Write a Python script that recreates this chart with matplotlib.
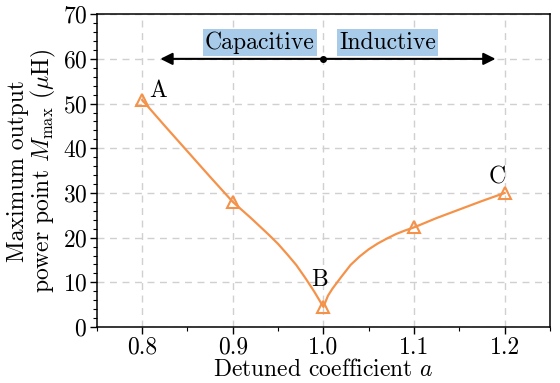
import numpy as np
import matplotlib
matplotlib.use('Agg')
import matplotlib.pyplot as plt

plt.rcParams['font.family'] = ['cmr10', 'DejaVu Serif']
plt.rcParams['mathtext.fontset'] = 'cm'
plt.rcParams['axes.formatter.use_mathtext'] = True
plt.rcParams['font.size'] = 17

# sampled points (markers)
alpha = [0.8, 0.9, 1.0, 1.1, 1.2]
m_max = [50.8, 28.0, 4.5, 22.3, 30.0]

# fitted curve
alpha_fit = [0.8, 0.825, 0.85, 0.875, 0.9, 0.91, 0.92, 0.93, 0.94, 0.95,
             0.96, 0.97, 0.98, 0.99, 1.0, 1.005, 1.01, 1.02, 1.03, 1.04,
             1.05, 1.06, 1.07, 1.08, 1.09, 1.1, 1.125, 1.15, 1.175, 1.2]
m_fit = [50.8, 45.0, 39.3, 33.6, 28.0, 26.2, 24.4, 22.5, 20.6, 18.6,
         16.3, 13.9, 11.0, 7.9, 4.5, 7.0, 8.6, 11.3, 13.9, 15.8,
         17.4, 18.7, 19.8, 20.8, 21.6, 22.3, 24.4, 26.3, 28.2, 30.0]

orange = '#f5924a'

fig = plt.figure(figsize=(5.6, 3.83), dpi=100)
ax = fig.add_axes([0.173, 0.146, 0.809, 0.817])

ax.plot(alpha_fit, m_fit, color=orange, lw=1.6, zorder=3)
ax.plot(alpha, m_max, ls='none', marker='^', ms=8, mfc='none',
        mec=orange, mew=1.5, zorder=4)

ax.text(0.818, 52.8, 'A', ha='center', va='center')
ax.text(0.996, 10.5, 'B', ha='center', va='center')
ax.text(1.192, 33.5, 'C', ha='center', va='center')

# capacitive / inductive arrow
ax.annotate('', xy=(0.82, 60), xytext=(1.0, 60),
            arrowprops=dict(arrowstyle='-|>', color='k', lw=1.5,
                            mutation_scale=18, shrinkA=0, shrinkB=0))
ax.annotate('', xy=(1.19, 60), xytext=(1.0, 60),
            arrowprops=dict(arrowstyle='-|>', color='k', lw=1.5,
                            mutation_scale=18, shrinkA=0, shrinkB=0))
ax.plot([1.0], [60], 'o', color='k', ms=4, zorder=5)
box = dict(boxstyle='square,pad=0.1', fc='#a9cbea', ec='none')
ax.text(0.930, 63.6, 'Capacitive', ha='center', va='center', bbox=box)
ax.text(1.071, 63.6, 'Inductive', ha='center', va='center', bbox=box)

ax.set_xlim(0.75, 1.25)
ax.set_ylim(0, 70)
ax.set_xticks([0.8, 0.9, 1.0, 1.1, 1.2])
ax.set_xticklabels(['0.8', '0.9', '1.0', '1.1', '1.2'])
ax.set_xticks(np.arange(0.75, 1.2501, 0.05), minor=True)
ax.set_yticks(range(0, 71, 10))
ax.set_yticks(range(0, 71, 2), minor=True)
ax.tick_params(which='major', direction='out', length=5, width=1, pad=2)
ax.tick_params(which='minor', direction='out', length=3, width=0.8)
ax.grid(ls=(0, (5, 4)), color='#d0d0d0', lw=1)
ax.set_axisbelow(True)
for s in ax.spines.values():
    s.set_linewidth(1.1)

ax.set_xlabel('Detuned coefficient $a$', labelpad=0)
ax.set_ylabel('Maximum output\npower point $M_{\\mathrm{max}}$ ($\\mu$H)',
              labelpad=3, linespacing=1.0)

fig.savefig('out.png', dpi=100)
plt.close()
